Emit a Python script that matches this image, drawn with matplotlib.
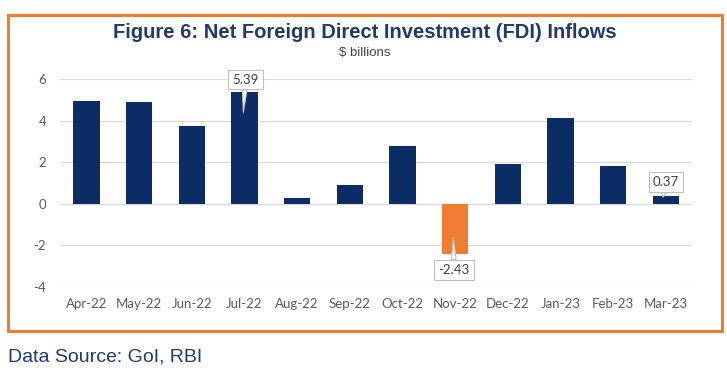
import matplotlib
matplotlib.use("Agg")
import matplotlib.pyplot as plt
from matplotlib.patches import Rectangle

months = ["Apr-22", "May-22", "Jun-22", "Jul-22", "Aug-22", "Sep-22",
          "Oct-22", "Nov-22", "Dec-22", "Jan-23", "Feb-23", "Mar-23"]
fdi = [4.94, 4.91, 3.75, 5.39, 0.29, 0.92, 2.77, -2.43, 1.93, 4.11, 1.84, 0.37]
labelled = {"Jul-22": "5.39", "Nov-22": "-2.43", "Mar-23": "0.37"}
y_ticks = [-4, -2, 0, 2, 4, 6]

NAVY = "#0c2c66"
ORANGE = "#ee7d31"
TITLE = "#1f3a6b"

fig = plt.figure(figsize=(7.27, 3.75), dpi=100)
W, H = 727, 375
ax = fig.add_axes([60 / W, 1 - 286.7 / H, (692 - 60) / W, (286.7 - 79.3) / H])

colors = [ORANGE if v < 0 else NAVY for v in fdi]
x = range(len(months))
ax.bar(x, fdi, width=0.5, color=colors, zorder=3)
ax.set_xlim(-0.5, len(months) - 0.5)
ax.set_ylim(-4, 6)
ax.set_yticks(y_ticks)
ax.set_yticklabels([str(t) for t in y_ticks])
ax.set_xticks(list(x))
ax.set_xticklabels(months)
ax.grid(axis="y", color="#d9d9d9", linewidth=0.9, zorder=0)
for s in ax.spines.values():
    s.set_visible(False)
ax.tick_params(axis="both", length=0, colors="#595959", labelsize=9.5)
ax.tick_params(axis="x", pad=8)
ax.tick_params(axis="y", pad=10)
for lab in ax.get_xticklabels() + ax.get_yticklabels():
    lab.set_fontfamily("Lato")

# callouts
for i, (m, v) in enumerate(zip(months, fdi)):
    if m not in labelled:
        continue
    if m == "Jul-22":
        xy, xyt = (i - 0.02, v - 1.0), (i + 0.02, v + 0.6)
    elif m == "Nov-22":
        xy, xyt = (i - 0.03, v + 0.8), (i - 0.02, v - 0.75)
    else:
        xy, xyt = (i - 0.05, v - 0.05), (i, v + 0.66)
    ax.annotate(labelled[m], xy=xy, xytext=xyt, ha="center", va="center",
                fontsize=9.5, color="#404040", fontfamily="Lato",
                bbox=dict(boxstyle="square,pad=0.3", fc="white", ec="#bfbfbf", lw=0.8),
                arrowprops=dict(arrowstyle="wedge,tail_width=0.35,shrink_factor=0.5",
                                fc="white", ec="#bfbfbf", lw=0.8, shrinkA=0, shrinkB=0),
                zorder=5, annotation_clip=False)

fig.text(365 / W, 1 - 32 / H, "Figure 6: Net Foreign Direct Investment (FDI) Inflows",
         ha="center", va="center", fontsize=14.5, fontweight="bold", color=TITLE,
         fontfamily="Liberation Sans")
fig.text(365 / W, 1 - 53 / H, "$ billions", ha="center", va="center",
         fontsize=9.5, color="#404040", fontfamily="Liberation Sans")

fig.patches.append(Rectangle((8 / W, 1 - 331 / H), (722 - 8) / W, (331 - 15) / H,
                             transform=fig.transFigure, fill=False, ec=ORANGE, lw=2.2))

fig.text(8 / W, 1 - 357 / H, "Data Source: GoI, RBI", ha="left", va="center",
         fontsize=14, color=TITLE, fontfamily="Liberation Sans")

fig.savefig("out.png", dpi=100)
